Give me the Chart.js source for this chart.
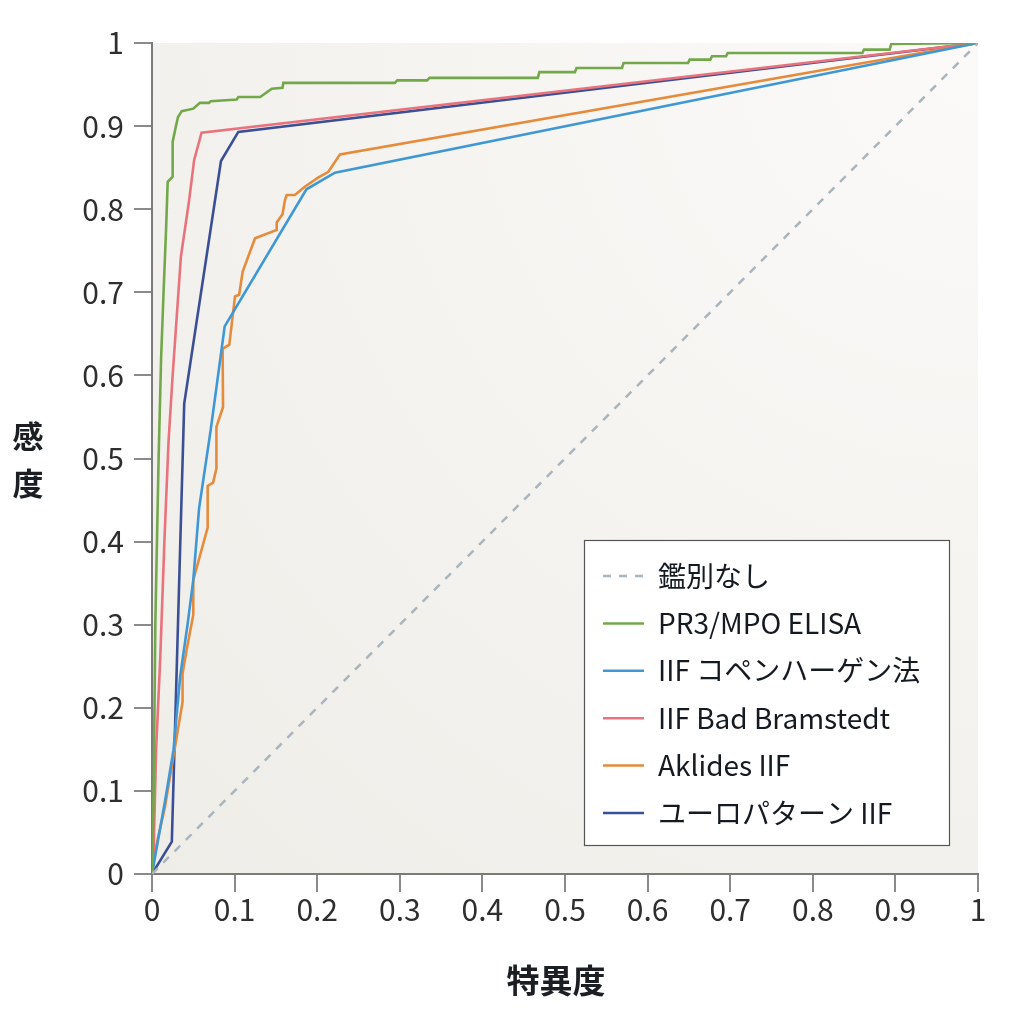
<!DOCTYPE html>
<html lang="ja">
<head>
<meta charset="utf-8">
<script src="https://cdn.jsdelivr.net/npm/chart.js@4/dist/chart.umd.min.js"></script>
<style>
  html, body { margin: 0; padding: 0; background: #ffffff; }
  #wrap { width: 1029px; height: 1011px; }
</style>
</head>
<body>
<div id="wrap"><canvas id="roc"></canvas></div>
<script>
// ROC curves: [1 - specificity, sensitivity]
const etiquetas = ['鑑別なし', 'PR3/MPO ELISA', 'IIF コペンハーゲン法', 'IIF Bad Bramstedt', 'Aklides IIF', 'ユーロパターン IIF'];
const colores   = ['#a9b5bd', '#72a84a', '#3f97d5', '#e8737c', '#e68a3c', '#3b4f96'];

const ticksValores = [0, 0.1, 0.2, 0.3, 0.4, 0.5, 0.6, 0.7, 0.8, 0.9, 1];

const sinDiscriminacion = [[0, 0], [1, 1]];

const elisa = [
  [0, 0], [0.002, 0.1], [0.004, 0.3], [0.008, 0.5], [0.011, 0.62], [0.014, 0.7],
  [0.017, 0.775], [0.019, 0.833], [0.025, 0.839], [0.025, 0.881], [0.029, 0.9],
  [0.0315, 0.911], [0.036, 0.918], [0.05, 0.921], [0.058, 0.928], [0.069, 0.928],
  [0.071, 0.93], [0.1025, 0.932], [0.1045, 0.935], [0.131, 0.935], [0.145, 0.945],
  [0.158, 0.946], [0.159, 0.952], [0.294, 0.952], [0.297, 0.955], [0.333, 0.955],
  [0.336, 0.958], [0.467, 0.958], [0.469, 0.965], [0.512, 0.965], [0.514, 0.97],
  [0.569, 0.97], [0.571, 0.976], [0.649, 0.976], [0.651, 0.98], [0.676, 0.98],
  [0.678, 0.984], [0.695, 0.984], [0.697, 0.988], [0.86, 0.988], [0.862, 0.992],
  [0.893, 0.992], [0.895, 0.999], [1, 1]
];

const copenhague = [
  [0, 0], [0.016, 0.089], [0.026, 0.149], [0.034, 0.237], [0.043, 0.3], [0.05, 0.354],
  [0.057, 0.44], [0.071, 0.534], [0.088, 0.659],
  [0.187, 0.824], [0.2215, 0.844], [1, 1]
];

const badBramstedt = [
  [0, 0], [0.002, 0.03], [0.005, 0.15], [0.01, 0.26], [0.015, 0.4], [0.02, 0.52],
  [0.025, 0.6], [0.035, 0.743], [0.045, 0.811], [0.051, 0.859], [0.06, 0.892], [1, 1]
];

const aklides = [
  [0, 0], [0.004, 0.029], [0.0157, 0.081], [0.037, 0.207], [0.037, 0.241], [0.042, 0.27],
  [0.05, 0.312], [0.05, 0.354], [0.0674, 0.417], [0.0674, 0.467], [0.074, 0.471],
  [0.078, 0.488], [0.078, 0.538], [0.086, 0.562], [0.0855, 0.632], [0.0936, 0.637],
  [0.1005, 0.695], [0.1055, 0.697], [0.1098, 0.725], [0.1247, 0.765], [0.151, 0.775],
  [0.151, 0.784], [0.158, 0.794], [0.161, 0.811], [0.163, 0.817], [0.173, 0.817],
  [0.185, 0.827], [0.201, 0.838], [0.2135, 0.845], [0.2276, 0.866], [1, 1]
];

const europattern = [
  [0, 0], [0.024, 0.039], [0.039, 0.566], [0.0835, 0.858], [0.1045, 0.893], [1, 1]
];

const series = [sinDiscriminacion, elisa, copenhague, badBramstedt, aklides, europattern];

// fondo del área de trazado
const fondoPlugin = {
  id: 'fondo',
  beforeDraw(chart) {
    const { ctx, chartArea: a } = chart;
    const g = ctx.createRadialGradient(a.right, a.top, 0, a.right, a.top, Math.hypot(a.width, a.height));
    g.addColorStop(0, '#fbfaf9');
    g.addColorStop(0.6, '#f4f2ee');
    g.addColorStop(1, '#efede8');
    ctx.save();
    ctx.fillStyle = g;
    ctx.fillRect(a.left, a.top, a.width, a.height);
    ctx.restore();
  }
};

// títulos de ejes y leyenda con recuadro
const textosPlugin = {
  id: 'textos',
  afterDraw(chart) {
    const { ctx } = chart;
    ctx.save();
    ctx.fillStyle = '#1b1f24';
    ctx.font = 'bold 31px "Noto Sans CJK JP"';
    ctx.textAlign = 'center';
    ctx.textBaseline = 'middle';
    ctx.fillText('感', 28, 436);
    ctx.fillText('度', 28, 483);
    ctx.font = 'bold 33px "Noto Sans CJK JP"';
    ctx.fillText('特異度', 556, 980);

    // leyenda
    const bx = 584, by = 540, bw = 365, bh = 305;
    ctx.fillStyle = '#ffffff';
    ctx.fillRect(bx, by, bw, bh);
    ctx.strokeStyle = '#555555';
    ctx.lineWidth = 1.2;
    ctx.strokeRect(bx + 0.5, by + 0.5, bw, bh);
    ctx.font = '28px "Noto Sans CJK JP"';
    ctx.textAlign = 'left';
    chart.data.datasets.forEach((ds, i) => {
      const y = 576 + i * 47.4;
      ctx.strokeStyle = ds.borderColor;
      ctx.lineWidth = 2.5;
      ctx.setLineDash(ds.borderDash || []);
      ctx.beginPath();
      ctx.moveTo(603, y);
      ctx.lineTo(644, y);
      ctx.stroke();
      ctx.setLineDash([]);
      ctx.fillStyle = '#141a20';
      ctx.fillText(ds.label, 658, y);
    });
    ctx.restore();
  }
};

const datasets = series.map((s, i) => ({
  label: etiquetas[i],
  data: s.map(p => ({ x: p[0], y: p[1] })),
  borderColor: colores[i],
  borderWidth: i === 0 ? 2.5 : 2.6,
  borderDash: i === 0 ? [8, 8] : undefined,
  pointRadius: 0,
  tension: 0,
  fill: false
}));

const ejeComun = {
  type: 'linear',
  min: 0,
  max: 1,
  afterBuildTicks: (scale) => { scale.ticks = ticksValores.map(v => ({ value: v })); },
  grid: { drawOnChartArea: false, drawTicks: true, tickLength: 18, color: '#8a8a8a', lineWidth: 2 },
  border: { color: '#7a7a7a', width: 2 },
  ticks: {
    color: '#2e2e2e',
    font: { family: '"Noto Sans CJK JP"', size: 30 },
    callback: (v) => String(v)
  }
};

new Chart(document.getElementById('roc'), {
  type: 'line',
  data: { datasets },
  plugins: [fondoPlugin, textosPlugin],
  options: {
    responsive: true,
    maintainAspectRatio: false,
    animation: false,
    layout: { padding: { top: 43, right: 51, left: 0, bottom: 0 } },
    plugins: { legend: { display: false }, tooltip: { enabled: false } },
    scales: {
      x: {
        ...ejeComun,
        ticks: { ...ejeComun.ticks, padding: 0, maxRotation: 0 },
        afterFit: (scale) => { scale.height = 1011 - 874; }
      },
      y: {
        ...ejeComun,
        ticks: { ...ejeComun.ticks, padding: 10 },
        afterFit: (scale) => { scale.width = 152; }
      }
    }
  }
});
</script>
</body>
</html>
